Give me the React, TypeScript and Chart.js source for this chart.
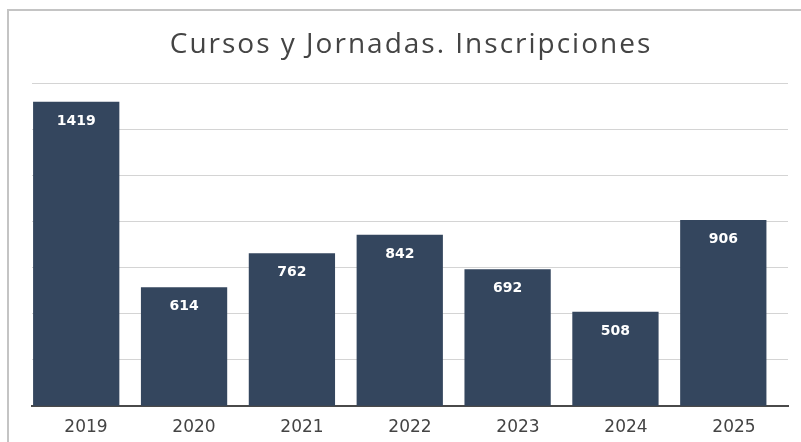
import React, { useEffect, useRef } from "react";
import { Chart, registerables } from "chart.js";

Chart.register(...registerables);

const TITLE = "Cursos y Jornadas. Inscripciones";
const years = ["2019", "2020", "2021", "2022", "2023", "2024", "2025"];
const inscriptions = [1419, 614, 762, 842, 692, 508, 906];
const yGridValues = [100, 300, 500, 700, 900, 1100, 1300, 1500];

const BAR_COLOR = "#34465e";

const valueLabels = {
  id: "valueLabels",
  afterDraw(chart: any) {
    const ctx = chart.ctx;
    const meta = chart.getDatasetMeta(0);
    ctx.save();
    ctx.fillStyle = "#ffffff";
    ctx.font = "bold 14px 'DejaVu Sans'";
    ctx.textAlign = "center";
    ctx.textBaseline = "middle";
    meta.data.forEach((el: any, i: number) => {
      ctx.fillText(String(inscriptions[i]), el.x, el.y + 19.5);
    });
    ctx.restore();
  },
};

const wideTitle = {
  id: "wideTitle",
  afterDraw(chart: any) {
    const ctx = chart.ctx;
    const area = chart.chartArea;
    ctx.save();
    ctx.fillStyle = "#444444";
    ctx.font = "28px 'Open Sans'";
    try {
      (ctx as any).letterSpacing = "2px";
    } catch (e) {}
    ctx.textAlign = "center";
    ctx.textBaseline = "alphabetic";
    ctx.fillText(TITLE, (area.left + area.right) / 2 + 1, 53);
    ctx.restore();
  },
};

export default function App() {
  const ref = useRef<HTMLCanvasElement | null>(null);

  useEffect(() => {
    if (!ref.current) return;
    const chart = new Chart(ref.current, {
      type: "bar",
      data: {
        labels: years,
        datasets: [
          {
            label: TITLE,
            data: inscriptions.map((v, i) => ({ x: i, y: v })),
            backgroundColor: BAR_COLOR,
            borderWidth: 0,
            xAxisID: "xb",
            yAxisID: "y",
            categoryPercentage: 1,
            barPercentage: 0.8,
          },
        ],
      },
      plugins: [valueLabels, wideTitle],
      options: {
        responsive: false,
        animation: false,
        layout: { padding: { left: 32, right: 13, top: 83, bottom: -8.2 } },
        plugins: {
          legend: { display: false },
          tooltip: { enabled: false },
          title: { display: false },
        },
        scales: {
          x: {
            type: "category",
            labels: years,
            offset: true,
            z: 2,
            grid: { display: false, drawTicks: false },
            border: { display: true, color: "#4a4a4a", width: 2 },
            ticks: {
              color: "#444444",
              font: { family: "'DejaVu Sans'", size: 17 },
              padding: 12,
              maxRotation: 0,
              autoSkip: false,
            },
          },
          xb: {
            type: "linear",
            display: false,
            min: -0.41,
            max: 6.6,
            offset: false,
            afterBuildTicks: (s: any) => {
              s.ticks = years.map((_, i) => ({ value: i }));
            },
          },
          y: {
            type: "linear",
            min: 100,
            max: 1500,
            z: 1,
            afterBuildTicks: (s: any) => {
              s.ticks = yGridValues.map((v) => ({ value: v }));
            },
            ticks: { display: false },
            border: { display: false },
            grid: {
              drawTicks: false,
              color: "rgba(0,0,0,0.17)",
              lineWidth: 1,
            },
          },
        },
      },
    });
    return () => chart.destroy();
  }, []);

  return (
    <div
      style={{
        position: "fixed",
        left: 0,
        top: 0,
        width: 801,
        height: 442,
        background: "#ffffff",
        overflow: "hidden",
      }}
    >
      <div
        style={{
          position: "absolute",
          left: 7,
          top: 9,
          width: 2000,
          height: 2000,
          borderLeft: "2px solid #c4c4c4",
          borderTop: "2px solid #c4c4c4",
        }}
      />
      <canvas
        ref={ref}
        width={801}
        height={442}
        style={{ position: "absolute", left: 0, top: 0, width: 801, height: 442 }}
      />
    </div>
  );
}
